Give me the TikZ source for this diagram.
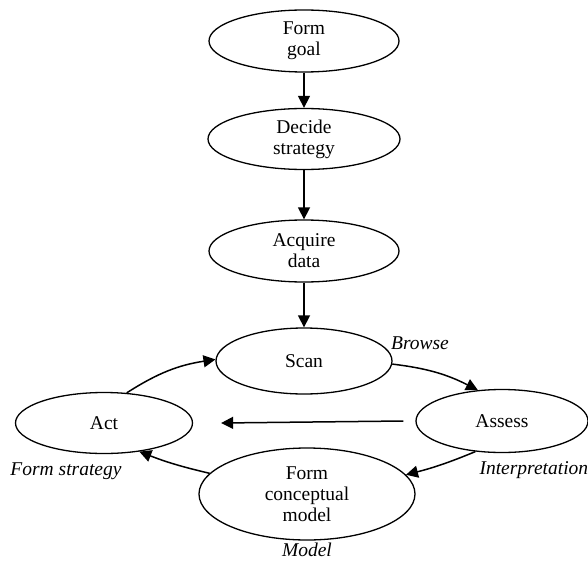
\documentclass[tikz,border=0pt]{standalone}
\usepackage{fontspec}
\setmainfont{Liberation Serif}
\usetikzlibrary{shapes.geometric,arrows.meta}
\begin{document}
\begin{tikzpicture}[x=1pt,y=-1pt,
  every node/.style={font=\fontsize{19.5}{21}\selectfont},
  stage/.style={ellipse,draw,line width=1.3pt,inner sep=0pt,align=center},
  flow/.style={line width=1.5pt,-{Triangle[length=12pt,width=12pt]}},
  tag/.style={font=\fontsize{19.5}{21}\selectfont\itshape}]
\useasboundingbox (0,0) rectangle (588,564);

% linear stages
\node[stage,minimum width=190pt,minimum height=62pt] (goal) at (304,41) {Form\\goal};
\node[stage,minimum width=192pt,minimum height=61pt] (strategy) at (304,139) {Decide\\strategy};
\node[stage,minimum width=190pt,minimum height=62pt] (acquire) at (304,251) {Acquire\\data};

% cycle stages
\node[stage,minimum width=176pt,minimum height=66pt] (scan) at (304,361) {Scan};
\node[stage,minimum width=177pt,minimum height=61pt] (act) at (104,423) {Act};
\node[stage,minimum width=172pt,minimum height=63pt] (assess) at (502,421) {Assess};
\node[stage,minimum width=216pt,minimum height=92pt] (model) at (307,494) {Form\\conceptual\\model};

% stage labels
\node[tag] (browse) at (420,343) {Browse};
\node[tag,anchor=west] (interp) at (476,470) {Interpretation};
\node[tag] (fstrat) at (66,471) {Form strategy};
\node[tag] (modeltag) at (307,550) {Model};

% connectors
\draw[flow] (goal.south) -- (strategy.north);
\draw[flow] (strategy.south) -- (acquire.north);
\draw[flow] (acquire.south) -- (scan.north);
\draw[flow] (act.53) to[bend left=12] (scan.179);
\draw[flow] (scan.358) to[bend left=10] (assess.128);
\draw[flow] (assess.229) to[bend left=4] (model.11);
\draw[flow] (model.168) to[bend left=4] (act.321);
\draw[flow] ([xshift=-12pt]assess.west) -- ([xshift=28pt]act.east);
\end{tikzpicture}
\end{document}
